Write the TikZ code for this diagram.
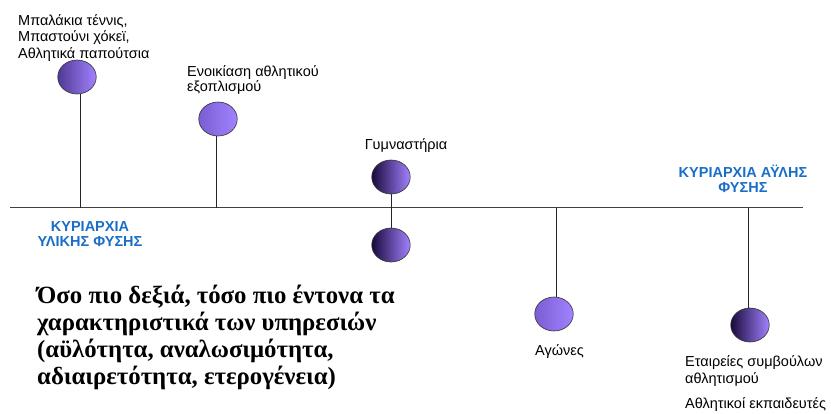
\documentclass[tikz,border=0pt]{standalone}
\usepackage{fontspec}
\setmainfont{Liberation Sans}
\newfontfamily\serifbold{Liberation Serif}
\usetikzlibrary{shapes.geometric,backgrounds}
\definecolor{lightpurple}{RGB}{162,130,255}
\definecolor{midpurple}{RGB}{135,104,235}
\definecolor{darkpurple}{RGB}{25,10,60}
\definecolor{domblue}{RGB}{25,110,200}
\tikzset{
  ball/.style={ellipse, draw=black!80, line width=0.6pt, minimum width=38.5pt, minimum height=34pt, inner sep=0pt},
  balldark/.style={ball, left color=darkpurple, middle color=midpurple, right color=lightpurple},
  ballmid/.style={ball, left color=midpurple!50!darkpurple, middle color=midpurple, right color=lightpurple},
  balllight/.style={ball, left color=midpurple!90!black, right color=lightpurple},
  lbl/.style={font=\fontsize{14.5}{16.5}\selectfont, align=left, inner sep=0pt},
  dom/.style={font=\fontsize{14.5}{14.5}\selectfont\bfseries, text=domblue, align=center, inner sep=0pt},
  stem/.style={line width=0.8pt, black!85},
  axisline/.style={line width=0.8pt, black!75}
}
\begin{document}
\begin{tikzpicture}[x=1pt, y=-1pt]
\useasboundingbox (0,0) rectangle (831,413);
% balls
\node[ballmid] (b1) at (77,77) {};
\node[balllight] (b2) at (218,119) {};
\node[balldark] (b3) at (391,177) {};
\node[balldark] (b3b) at (391,245) {};
\node[balllight] (b4) at (554,314) {};
\node[balldark] (b5) at (750,325) {};
% axis attach points
\coordinate (axL) at (10,207.5);
\coordinate (axR) at (803,207.5);
\coordinate (a1) at (80,207.5);
\coordinate (a2) at (216,207.5);
\coordinate (a4) at (556,207.5);
\coordinate (a5) at (748,207.5);
\begin{scope}[on background layer]
\draw[axisline] (axL) -- (axR);
\draw[stem] (b1.south -| a1) -- (a1);
\draw[stem] (b2.south -| a2) -- (a2);
\draw[stem] (b3) -- (b3b);
\draw[stem] (a4) -- (b4.north -| a4);
\draw[stem] (a5) -- (b5.north -| a5);
\end{scope}
% labels (base = baseline of last line)
\node[lbl, anchor=base west] (l1) at (18,58) {Μπαλάκια τέννις,\\Μπαστούνι χόκεϊ,\\Αθλητικά παπούτσια};
\node[lbl, font=\fontsize{14.5}{15}\selectfont, anchor=base west] (l2) at (187,91) {Ενοικίαση αθλητικού\\εξοπλισμού};
\node[lbl, anchor=base] (l3) at (406,149) {Γυμναστήρια};
\node[lbl, anchor=base west] (l4) at (535,355) {Αγώνες};
\node[lbl, anchor=base west] (l5) at (685,383) {Εταιρείες συμβούλων\\αθλητισμού};
\node[lbl, anchor=base west] (l6) at (685,408) {Αθλητικοί εκπαιδευτές};
% domain labels
\node[dom, anchor=base] (d1) at (90,246) {ΚΥΡΙΑΡΧΙΑ\\ΥΛΙΚΗΣ ΦΥΣΗΣ};
\node[dom, anchor=base] (d2) at (743,192) {ΚΥΡΙΑΡΧΙΑ ΑΫΛΗΣ\\ΦΥΣΗΣ};
% bold text
\node[anchor=base west, align=left, inner sep=0pt, font=\serifbold\bfseries\fontsize{24.8}{27}\selectfont] (t) at (37,384) {Όσο πιο δεξιά, τόσο πιο έντονα τα\\χαρακτηριστικά των υπηρεσιών\\(αϋλότητα, αναλωσιμότητα,\\αδιαιρετότητα, ετερογένεια)};
\end{tikzpicture}
\end{document}
